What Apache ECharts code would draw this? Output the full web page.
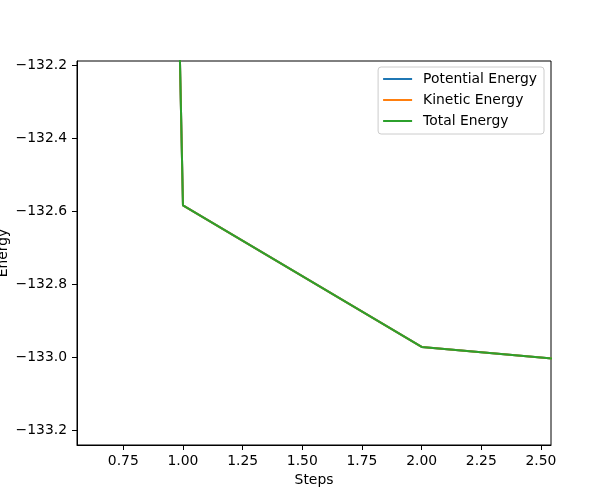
<!DOCTYPE html>
<html>
<head>
<meta charset="utf-8">
<script src="https://cdn.jsdelivr.net/npm/echarts@6/dist/echarts.min.js"></script>
<style>
html,body{margin:0;padding:0;background:#fff;}
#c{width:612px;height:500px;}
</style>
</head>
<body>
<div id="c"></div>
<script>
const steps = [0, 1, 2, 3];
const potentialEnergy = [-101.2, -132.584, -132.972, -133.03];
const kineticEnergy = [-101.2, -132.584, -132.972, -133.03];
const totalEnergy = [-101.2, -132.584, -132.972, -133.03];
const xTicks = [0.75, 1.00, 1.25, 1.50, 1.75, 2.00, 2.25, 2.50];
const yTicks = [-133.2, -133.0, -132.8, -132.6, -132.4, -132.2];
const seriesNames = ['Potential Energy', 'Kinetic Energy', 'Total Energy'];
const colors = ['#1f77b4', '#ff7f0e', '#2ca02c'];

const font = 'DejaVu Sans';
const fs = 13.9;
const minus = s => s.replace('-', '\u2212');
const pair = arr => steps.map((s, i) => [s, arr[i]]);
const allSeries = [potentialEnergy, kineticEnergy, totalEnergy];

const chart = echarts.init(document.getElementById('c'));
chart.setOption({
  animation: false,
  backgroundColor: '#fff',
  color: colors,
  grid: {left: 77, right: 61, top: 61, bottom: 55, show: true, borderColor: '#000', borderWidth: 1,
    containLabel: false, outerBoundsMode: 'none'},
  legend: {
    orient: 'vertical', right: 68, top: 67,
    padding: [5, 7, 6, 5], itemGap: 7,
    itemWidth: 29, itemHeight: 2, icon: 'rect',
    backgroundColor: 'rgba(255,255,255,0.8)',
    borderColor: '#cccccc', borderWidth: 1, borderRadius: 3,
    textStyle: {fontFamily: font, fontSize: fs, color: '#000', padding: [0, 0, 0, 6], lineHeight: 14},
    data: seriesNames
  },
  xAxis: {
    type: 'value', min: 0.556, max: 2.542,
    name: 'Steps', nameLocation: 'middle', nameGap: 28, nameMoveOverlap: false,
    nameTextStyle: {fontFamily: font, fontSize: fs, color: '#000'},
    axisLine: {show: true, lineStyle: {color: '#000', width: 1}},
    axisTick: {show: true, length: 5, lineStyle: {color: '#000'}, customValues: xTicks},
    axisLabel: {fontFamily: font, fontSize: fs, color: '#000', margin: 9, customValues: xTicks,
      formatter: v => minus(v.toFixed(2))},
    splitLine: {show: false}
  },
  yAxis: {
    type: 'value', min: -133.241, max: -132.188,
    name: 'Energy', nameLocation: 'middle', nameGap: 67, nameMoveOverlap: false,
    nameTextStyle: {fontFamily: font, fontSize: fs, color: '#000'},
    axisLine: {show: true, lineStyle: {color: '#000', width: 1}},
    axisTick: {show: true, length: 5, lineStyle: {color: '#000'}, customValues: yTicks},
    axisLabel: {fontFamily: font, fontSize: fs, color: '#000', margin: 10, customValues: yTicks,
      formatter: v => minus(v.toFixed(1))},
    splitLine: {show: false}
  },
  series: seriesNames.map((n, i) => ({
    name: n, type: 'line', data: pair(allSeries[i]),
    showSymbol: false, symbol: 'none', clip: true,
    lineStyle: {width: 2, color: colors[i]}, z: 2 + i
  }))
});
</script>
</body>
</html>
